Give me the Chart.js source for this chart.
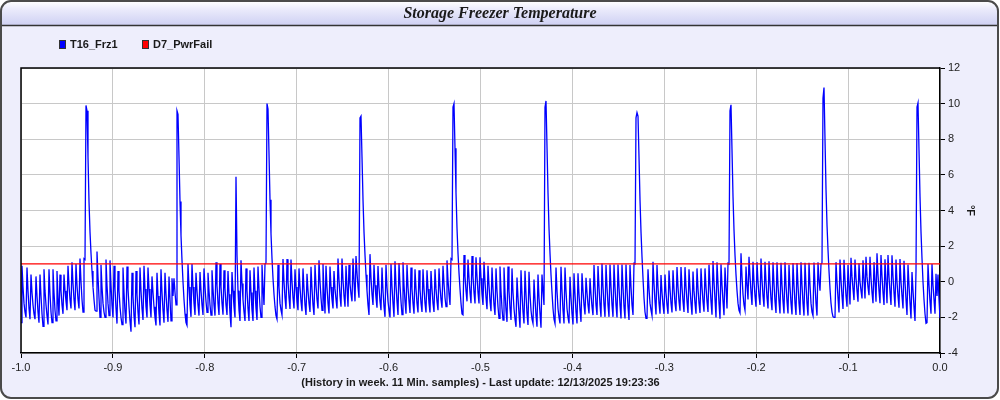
<!DOCTYPE html>
<html><head><meta charset="utf-8">
<script src="https://cdn.jsdelivr.net/npm/chart.js@4.4.1/dist/chart.umd.min.js"></script>
<style>
html,body{margin:0;padding:0;background:#ffffff;}
#wrap{position:relative;width:1000px;height:400px;}
canvas{display:block;}
</style></head><body>
<div id="wrap"><canvas id="c" width="1000" height="400"></canvas></div>
<script>
// ---- texts ----
const chartTitle = 'Storage Freezer Temperature';
const footerText = '(History in week. 11 Min. samples) - Last update: 12/13/2025 19:23:36';
const unitLabel = '°F';
const seriesNames = ['T16_Frz1', 'D7_PwrFail'];
const seriesColors = ['#0000ff', '#ff0000'];

// ---- tick labels ----
const xTickValues = [-1.0, -0.9, -0.8, -0.7, -0.6, -0.5, -0.4, -0.3, -0.2, -0.1, 0.0];
const yTickValues = [-4, -2, 0, 2, 4, 6, 8, 10, 12];

// ---- T16_Frz1 samples (evenly spaced over the week), split by defrost period ----
const segA = [-2.3,0.9,-0.3,-1.2,-1.7,-2.0,0.8,-0.5,-1.5,-2.1,
0.4,-0.6,-1.3,-1.8,-2.1,0.3,-0.8,-1.7,-2.3,0.4,
-0.8,-1.8,-2.5,0.7,-0.5,-1.3,-1.9,-2.4,0.7,-0.7,
-1.7,-2.3,0.7,-0.6,-1.6,-2.2,0.6,-0.9,-1.9,0.4,
-0.5,-1.3,-1.8,0.4,-0.5,-1.1,-1.6,0.9,-0.2,-1.0,
-1.5,1.1,-0.1,-1.0,-1.6,1.0,-0.2,-1.0,-1.5,1.3,
0.0,-1.0,-1.7,1.3,1.25,9.9,9.6,7.0,4.5,2.8,
1.6,0.6,-0.3,-1.0,-1.6];
const segB = [-1.65,1.7,0.3,-0.9,-2.0,0.95,-0.3,-1.2,-1.7,-2.0,
1.25,-0.2,-1.2,-1.9,1.2,-0.2,-1.3,-2.0,0.9,-0.4,
-1.5,-2.35,0.6,-0.5,-1.4,-2.0,-2.4,0.8,-0.6,-1.7,
-2.35,0.85,-0.4,-1.4,-2.2,-2.8,0.5,-0.8,-1.9,-2.55,
0.6,-0.7,-1.7,-2.4,0.8,-0.5,-1.5,-2.15,0.9,-0.4,
-1.4,-2.0,0.8,-0.4,-1.3,-2.0,0.3,-0.6,-1.4,-2.0,
-2.45,0.5,-0.8,-1.8,-2.45,0.7,-0.6,-1.6,-2.3,0.5,
-0.7,-1.6,-2.25,0.3,-1.0,-2.2,0.2,-0.8,0.2,-0.6,
-1.3,9.6,9.4,7.0,4.5,2.6,1.2,0.0,-1.0,-1.8,-2.3];
const segC = [-2.45,1.0,-0.3,-1.3,-1.97,1.0,-0.3,-1.2,-1.87,0.5,
-0.5,-1.3,-1.9,0.55,-0.5,-1.3,-1.87,0.75,-0.3,-1.1,
-1.72,0.5,-0.5,-1.3,-1.87,0.65,-0.4,-1.3,-1.9,1.1,
-0.2,-1.2,-1.87,1.0,-0.3,-1.2,-1.85,0.65,-0.4,-1.3,
-1.87,0.6,-0.7,-1.8,-2.55,0.55,-0.5,-1.4,-2.0,5.9,
1.5,-0.5,-1.6];
const segD = [-2.2,1.2,-0.1,-1.0,-1.7,-2.2,0.75,-0.5,-1.5,-2.2,
0.65,-0.6,-1.6,-2.2,0.8,-0.5,-1.5,-2.15,0.85,-0.4,
-1.4,-2.0,0.95,-0.3,-1.3,1.0,1.05,10.0,9.7,7.2,
4.6,2.7,1.3,0.2,-0.7,-1.4,-1.9,-2.1];
const segE = [0.95,-0.3,-1.2,-1.6,-1.87,1.27,0.0,-0.9,-1.53,1.27,
0.0,-0.9,-1.53,1.25,0.0,-0.9,-1.5,0.7,-0.3,-1.1,
-1.6,0.75,-0.3,-1.1,-1.65,0.75,-0.4,-1.3,-1.87,0.45,
-0.5,-1.2,-1.7,0.84,-0.4,-1.3,-1.87,0.94,-0.2,-1.0,
-1.5,1.2,0.0,-0.9,-1.6,1.0,-0.6,-1.78,0.9,-0.3,
-1.2,-1.78,0.85,-0.3,-1.0,-1.5,0.6,-0.4,-1.0,-1.5,
1.3,0.1,-0.8,-1.4,1.3,0.1,-0.8,-1.4,0.9,-0.3,
-1.4,0.95,-0.1,-0.7,-1.1,1.3,0.0,-1.1,1.45,0.5,
-0.3,-0.9,9.2,9.3,7.0,4.6,2.8,1.5,0.4,-0.5,
-1.3,-1.87];
const segF = [1.55,0.2,-0.7,-1.3,0.95,-0.2,-0.9,-1.46,0.88,-0.3,
-1.1,-1.6,0.8,-0.5,-1.4,-1.97,0.95,-0.3,-1.1,-1.6,
-2.0,1.0,-0.3,-1.2,-1.97,1.15,-0.2,-1.1,-1.87,1.05,
-0.2,-1.1,-1.84,1.1,-0.2,-1.1,-1.8,0.95,-0.3,-1.1,
-1.75,0.8,-0.4,-1.2,-1.8,0.7,-0.4,-1.2,-1.72,0.65,
-0.4,-1.2,-1.7,0.7,-0.4,-1.2,-1.72,0.65,-0.4,-1.2,
-1.72,0.6,-0.4,-1.2,-1.7,0.7,-0.4,-1.1,-1.6,0.75,
-0.3,-1.0,-1.46,0.9,-0.1,-0.9,-1.4,1.2,0.1,-0.7,
-1.3,1.3,1.25,9.8,10.0,7.5,5.0,3.0,1.6,0.5,
-0.4,-1.2,-1.8];
const segG = [-1.85,1.5,0.3,-0.5,-1.1,1.25,0.2,-0.6,-1.2,1.45,
0.3,-0.6,-1.22,1.38,0.3,-0.6,-1.22,1.38,0.2,-0.7,
-1.3,1.12,0.0,-0.9,-1.54,0.9,-0.2,-1.1,-1.65,0.8,
-0.4,-1.3,-1.87,0.75,-0.5,-1.4,-2.06,0.85,-0.5,-1.5,
-2.15,0.8,-0.6,-1.6,-2.25,0.85,-0.5,-1.5,-2.15,0.75,
-0.6,-1.5,-2.1,-2.53,0.24,-0.9,-1.8,-2.58,0.65,-0.7,
-1.7,-2.34,0.62,-0.7,-1.8,-2.43,0.56,-0.7,-1.6,-2.1,
-2.34,0.13,-1.0,-1.9,-2.53,0.4,-0.9,-1.8,-2.58,0.4,
-0.5,-1.3,9.8,10.15,7.6,5.0,3.0,1.6,0.4,-0.6,
-1.5,-2.1,-2.34];
const segH = [0.8,-0.5,-1.5,-2.0,-2.34,0.84,-0.5,-1.6,-2.34,0.8,
-0.5,-1.5,-2.0,-2.34,0.28,-0.9,-1.8,-2.4,0.47,-0.7,
-1.7,-2.34,0.47,-0.7,-1.6,-2.25,0.47,-0.5,-1.3,-1.84,
0.22,-0.6,-1.3,-1.78,0.19,-0.7,-1.4,-1.87,0.94,-0.3,
-1.3,-1.87,0.88,-0.3,-1.3,-1.97,1.03,-0.3,-1.3,-1.97,
0.94,-0.3,-1.3,-1.97,0.97,-0.3,-1.3,-1.97,0.97,-0.3,
-1.3,-2.0,0.97,-0.3,-1.3,-2.06,0.97,-0.3,-1.4,-2.06,
0.97,-0.4,-1.4,-2.15,0.94,-0.3,-1.3,-1.87,1.03,1.0,
9.2,9.5,9.3,7.0,4.6,2.8,1.4,0.2,-0.9,-1.7,
-2.06];
const segI = [-2.06,0.7,-0.4,-1.2,-1.6,-1.9,1.12,-0.1,-1.1,-1.84,
0.94,-0.3,-1.2,-1.8,0.38,-0.6,-1.3,-1.8,0.4,-0.6,
-1.3,-1.8,0.63,-0.4,-1.2,-1.72,0.65,-0.4,-1.2,-1.65,
0.83,-0.3,-1.1,-1.63,0.83,-0.3,-1.1,-1.7,0.82,-0.3,
-1.1,-1.75,0.7,-0.4,-1.2,-1.85,0.58,-0.5,-1.2,-1.8,
0.75,-0.4,-1.2,-1.75,0.75,-0.3,-1.1,-1.68,0.75,-0.3,
-1.1,-1.7,0.96,-0.2,-1.1,-1.85,1.16,0.0,-1.0,-2.0,
1.1,-0.1,-1.2,-2.08,0.98,-0.2,-1.1,-1.88,0.8,-0.3,
-1.5,1.04,1.0,9.6,9.93,7.4,4.8,2.9,1.5,0.4,
-0.5,-1.2,-1.6,-1.75];
const segJ = [1.6,0.3,-0.7,-1.3,-1.6,0.85,-0.2,-1.0,1.4,0.3,
-0.6,-1.3,1.12,0.0,-0.8,-1.4,1.1,0.0,-0.8,-1.3,
1.3,0.1,-0.8,-1.4,1.12,0.0,-0.9,-1.5,1.15,-0.1,
-1.0,-1.6,1.1,-0.1,-1.1,-1.75,1.1,-0.2,-1.1,-1.78,
1.07,-0.2,-1.1,-1.78,1.1,-0.2,-1.1,-1.78,0.95,-0.3,
-1.2,-1.84,1.05,-0.2,-1.2,-1.87,1.05,-0.2,-1.2,-1.87,
1.1,-0.2,-1.2,-1.9,1.07,-0.2,-1.2,-1.9,1.06,-0.2,
-1.2,-1.7,-1.9,1.08,-0.2,-1.2,-1.9,1.09,0.1,-0.5,
1.0,1.05,10.3,10.9,8.0,5.2,3.2,1.8,0.6,-0.4,
-1.2,-1.7,-1.96,-2.0];
const segK = [-2.0,1.1,0.0,-0.9,-1.72,1.25,0.1,-0.8,-1.53,1.24,
0.1,-0.8,-1.4,0.94,-0.2,-1.27,1.35,0.3,-0.4,-1.03,
1.25,0.2,-0.5,-1.12,1.04,0.0,-0.5,-0.94,1.2,0.1,
-0.94,1.4,0.3,-0.3,-0.75,1.4,0.2,-0.6,-1.2,1.1,
0.0,-1.12,1.6,0.4,-0.5,-1.2,1.5,0.3,-0.6,-1.3,
1.26,0.0,-1.2,1.5,0.3,-0.6,-1.3,1.48,0.3,-0.6,
-1.4,1.25,0.0,-0.8,-1.46,1.27,0.0,-0.8,-1.5,1.18,
0.0,-1.0,-1.87,0.96,-0.2,-1.2,-2.06,0.55,-0.5,-1.4,
-2.2,0.6,9.8,10.03,7.4,4.8,2.8,1.3,0.0,-1.0,
-1.8,-2.34,-2.3,1.0,-0.2,-1.1,-1.8,1.0,-0.2,-1.0,
-1.8,0.45,-0.8,0.4,-1.0,-2.05];

// ---- D7_PwrFail (flat level across the week) ----
const pwrFailX = [-1.0, 0.0];
const pwrFailY = [1, 1];

// ---- build datasets from the arrays ----
const frzTemps = [].concat(segA, segB, segC, segD, segE, segF, segG, segH, segI, segJ, segK);
const lastIdx = frzTemps.length - 1;
const frzPoints = frzTemps.map((v, i) => ({ x: -1 + i / lastIdx, y: v }));
const pwrPoints = pwrFailX.map((x, i) => ({ x: x, y: pwrFailY[i] }));

function rr(ctx, x, y, w, h, r) {
  ctx.beginPath();
  ctx.moveTo(x + r, y);
  ctx.lineTo(x + w - r, y);
  ctx.arcTo(x + w, y, x + w, y + r, r);
  ctx.lineTo(x + w, y + h - r);
  ctx.arcTo(x + w, y + h, x + w - r, y + h, r);
  ctx.lineTo(x + r, y + h);
  ctx.arcTo(x, y + h, x, y + h - r, r);
  ctx.lineTo(x, y + r);
  ctx.arcTo(x, y, x + r, y, r);
  ctx.closePath();
}

const framePlugin = {
  id: 'framePlugin',
  beforeDraw(chart) {
    const ctx = chart.ctx, W = chart.width, H = chart.height;
    ctx.save();
    ctx.fillStyle = '#ffffff';
    ctx.fillRect(0, 0, W, H);
    rr(ctx, 1, 1, W - 3, H - 3, 10);
    ctx.fillStyle = '#eeeefc';
    ctx.fill();
    ctx.save();
    rr(ctx, 1, 1, W - 3, H - 3, 10);
    ctx.clip();
    const g = ctx.createLinearGradient(0, 1, 0, 26);
    g.addColorStop(0, '#ffffff');
    g.addColorStop(0.3, '#ececfc');
    g.addColorStop(1, '#cdcff2');
    ctx.fillStyle = g;
    ctx.fillRect(0, 0, W, 26);
    ctx.restore();
    ctx.strokeStyle = '#333333';
    ctx.lineWidth = 1.5;
    ctx.beginPath(); ctx.moveTo(1, 25.5); ctx.lineTo(W - 2, 25.5); ctx.stroke();
    rr(ctx, 1, 1, W - 3, H - 3, 10);
    ctx.strokeStyle = '#4a4a4a';
    ctx.lineWidth = 2;
    ctx.stroke();
    // plot background
    const a = chart.chartArea;
    ctx.fillStyle = '#ffffff';
    ctx.fillRect(a.left, a.top, a.right - a.left, a.bottom - a.top);
    // title
    ctx.fillStyle = '#1a1a1a';
    ctx.font = 'italic bold 16px "Liberation Serif", serif';
    ctx.textAlign = 'center';
    ctx.textBaseline = 'middle';
    ctx.fillText(chartTitle, 500, 14);
    // legend
    const legendX = [59, 142];
    ctx.font = 'bold 11px "Liberation Sans", Arial, sans-serif';
    ctx.textAlign = 'left';
    seriesNames.forEach((name, i) => {
      ctx.fillStyle = seriesColors[i];
      ctx.fillRect(legendX[i], 40, 6, 8);
      ctx.strokeStyle = '#333';
      ctx.lineWidth = 1;
      ctx.strokeRect(legendX[i] + 0.5, 40.5, 6, 8);
      ctx.fillStyle = '#1a1a1a';
      ctx.fillText(name, legendX[i] + 11, 44.5);
    });
    ctx.restore();
  },
  afterDatasetsDraw(chart) {
    const ctx = chart.ctx, a = chart.chartArea;
    ctx.save();
    ctx.strokeStyle = '#000';
    ctx.lineWidth = 1.5;
    ctx.beginPath();
    ctx.moveTo(a.left, a.bottom);
    ctx.lineTo(a.left, a.top);
    ctx.lineTo(a.right, a.top);
    ctx.stroke();
    ctx.restore();
  }
};

new Chart(document.getElementById('c'), {
  type: 'line',
  data: {
    datasets: [
      { label: seriesNames[1], data: pwrPoints, borderColor: seriesColors[1], borderWidth: 1.2,
        pointRadius: 0, tension: 0, fill: false, order: 0 },
      { label: seriesNames[0], data: frzPoints, borderColor: seriesColors[0], borderWidth: 1.3,
        pointRadius: 0, tension: 0, fill: false, order: 1 }
    ]
  },
  options: {
    responsive: false,
    animation: false,
    devicePixelRatio: 1,
    layout: { padding: { top: 68, left: 21, right: 0, bottom: 0 } },
    plugins: { legend: { display: false }, title: { display: false }, tooltip: { enabled: false } },
    scales: {
      x: {
        type: 'linear', position: 'bottom', min: -1, max: 0,
        afterBuildTicks: s => { s.ticks = xTickValues.map(v => ({ value: v })); },
        afterFit: s => { s.height = 47; },
        grid: { color: '#c8c8c8', lineWidth: 1, tickColor: '#000', tickLength: 5, drawTicks: true },
        border: { display: true, color: '#000', width: 1.5 },
        ticks: { color: '#222', font: { family: '"Liberation Sans", Arial, sans-serif', size: 11 },
                 padding: 3, maxRotation: 0, autoSkip: false, callback: v => Number(v).toFixed(1) },
        title: { display: true, text: footerText, color: '#1a1a1a',
                 font: { family: '"Liberation Sans", Arial, sans-serif', size: 11, weight: 'bold' },
                 padding: { top: 0, bottom: 10.5 } }
      },
      y: {
        type: 'linear', position: 'right', min: -4, max: 12,
        afterBuildTicks: s => { s.ticks = yTickValues.map(v => ({ value: v })); },
        afterFit: s => { s.width = 60; },
        grid: { color: '#c8c8c8', lineWidth: 1, tickColor: '#000', tickLength: 5, drawTicks: true },
        border: { display: true, color: '#000', width: 1.5 },
        ticks: { color: '#222', font: { family: '"Liberation Sans", Arial, sans-serif', size: 11 },
                 padding: 3, autoSkip: false, callback: v => String(v) },
        title: { display: true, text: unitLabel, color: '#1a1a1a',
                 font: { family: '"Liberation Sans", Arial, sans-serif', size: 11, weight: 'bold' },
                 padding: { top: 23, bottom: 0 } }
      }
    }
  },
  plugins: [framePlugin]
});
</script>
</body></html>
